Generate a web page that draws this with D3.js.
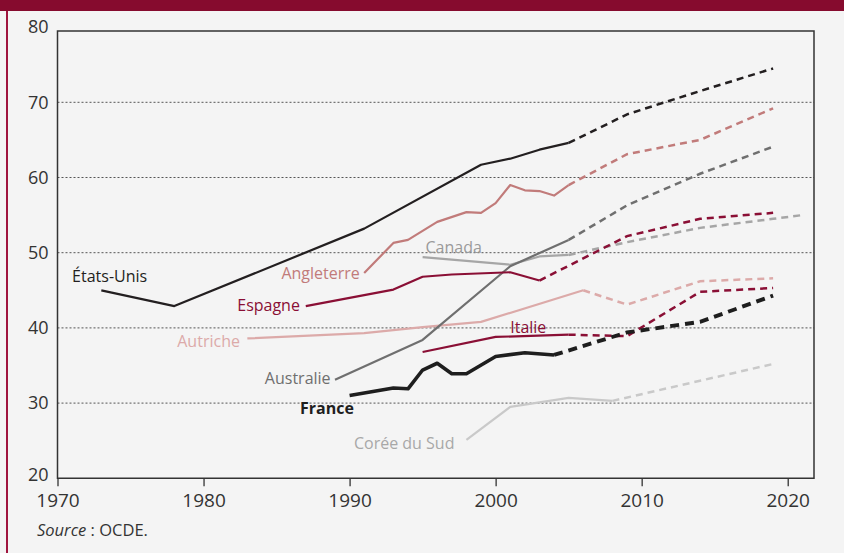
<!DOCTYPE html>
<head>
  <meta charset="utf-8">
  <script src="https://d3js.org/d3.v7.min.js"></script>
  <style>
    body { margin:0; background-color:#f4f4f4; }
    svg { display:block; font-family:"Open Sans", sans-serif; }
  </style>
</head>
<body>
<div class="chart-container"></div>
<script>
// observed values [year, %] and projections (dashed)
var etatsUnis      = [[1973,45.0],[1978,42.9],[1991,53.2],[1999,61.7],[2001,62.5],[2003,63.7],[2005,64.6]];
var etatsUnisProj  = [[2005,64.6],[2009,68.4],[2014,71.5],[2019,74.5]];
var angleterre     = [[1991,47.3],[1993,51.3],[1994,51.7],[1996,54.1],[1998,55.4],[1999,55.3],[2000,56.6],[2001,59.0],[2002,58.3],[2003,58.2],[2004,57.6],[2005,59.0]];
var angleterreProj = [[2005,59.0],[2009,63.1],[2014,65.0],[2019,69.2]];
var espagne        = [[1987,42.9],[1993,45.1],[1995,46.8],[1997,47.1],[2001,47.4],[2003,46.3]];
var espagneProj    = [[2003,46.3],[2009,52.2],[2014,54.5],[2019,55.3]];
var canada         = [[1995,49.4],[2001,48.4],[2003,49.5],[2005,49.7]];
var canadaProj     = [[2005,49.7],[2009,51.4],[2014,53.3],[2019,54.5],[2021,55.0]];
var australie      = [[1989,33.1],[1995,38.4],[2001,48.2],[2005,51.7]];
var australieProj  = [[2005,51.7],[2009,56.3],[2014,60.5],[2019,64.1]];
var autriche       = [[1983,38.6],[1991,39.3],[1995,40.1],[1999,40.8],[2006,45.0]];
var autricheProj   = [[2006,45.0],[2009,43.1],[2014,46.2],[2019,46.6]];
var italie         = [[1995,36.8],[2000,38.8],[2005,39.1]];
var italieProj     = [[2005,39.1],[2009,38.9],[2014,44.8],[2019,45.3]];
var france         = [[1990,31.0],[1993,32.0],[1994,31.9],[1995,34.4],[1996,35.3],[1997,33.9],[1998,33.9],[2000,36.2],[2002,36.7],[2004,36.4]];
var franceProj     = [[2004,36.4],[2009,39.4],[2014,40.8],[2019,44.3]];
var coree          = [[1998,25.1],[2001,29.5],[2005,30.7],[2008,30.3]];
var coreeProj      = [[2008,30.3],[2019,35.2]];

var xTicks = [1970, 1980, 1990, 2000, 2010, 2020];
var yTicks = [20, 30, 40, 50, 60, 70, 80];

var series = [
  {name:"Autriche",     obs:autriche,   proj:autricheProj,   color:"#dcaaa9", w:2.2, lx:1978.2, ly:37.5, anchor:"start"},
  {name:"Corée du Sud", obs:coree,      proj:coreeProj,      color:"#c9c9c9", w:2.2, lx:1990.3, ly:23.9, anchor:"start", tc:"#a8a8a8"},
  {name:"Canada",       obs:canada,     proj:canadaProj,     color:"#a6a6a6", w:2.2, lx:1995.2, ly:50.0, anchor:"start", tc:"#9a9a9a"},
  {name:"Australie",    obs:australie,  proj:australieProj,  color:"#6f6f6f", w:2.2, lx:1988.7, ly:32.6, anchor:"end"},
  {name:"Angleterre",   obs:angleterre, proj:angleterreProj, color:"#c17b7a", w:2.2, lx:1990.7, ly:46.5, anchor:"end"},
  {name:"Espagne",      obs:espagne,    proj:espagneProj,    color:"#8a0f35", w:2.2, lx:1986.6, ly:42.3, anchor:"end", weight:500},
  {name:"Italie",       obs:italie,     proj:italieProj,     color:"#8a0f35", w:2.2, lx:2001.0, ly:39.3, anchor:"start"},
  {name:"États-Unis",   obs:etatsUnis,  proj:etatsUnisProj,  color:"#231f20", w:2.2, lx:1971.0, ly:46.1, anchor:"start"},
  {name:"France",       obs:france,     proj:franceProj,     color:"#1e1e1e", w:3.6, lx:1986.6, ly:28.6, anchor:"start", weight:700, dash:"9,6"}
];

var svg = d3.select(".chart-container").append("svg")
  .attr("width", 844)
  .attr("height", 553);

// page decoration
svg.append("rect").attr("x", 0).attr("y", 0).attr("width", 844).attr("height", 553).attr("fill", "#f4f4f4");
svg.append("rect").attr("x", 0).attr("y", 0).attr("width", 844).attr("height", 11).attr("fill", "#860b2e");
svg.append("rect").attr("x", 6).attr("y", 11).attr("width", 2).attr("height", 542).attr("fill", "#a0153e");

var xScale = d3.scaleLinear().domain([1970, 2021.8]).range([57.5, 814]);
var yScale = d3.scaleLinear().domain([20, 80]).range([478.3, 27.1]);

// dotted gridlines
svg.append("g").selectAll("line")
  .data(yTicks.filter(function(d){ return d > 20 && d < 80; }))
  .enter().append("line")
  .attr("x1", xScale(1970)).attr("x2", xScale(2021.8))
  .attr("y1", function(d){ return yScale(d); })
  .attr("y2", function(d){ return yScale(d); })
  .attr("stroke", "#555")
  .attr("stroke-width", 1)
  .attr("stroke-dasharray", "2,2");

var line = d3.line()
  .x(function(d){ return xScale(d[0]); })
  .y(function(d){ return yScale(d[1]); });

var g = svg.append("g");
series.forEach(function(s) {
  g.append("path")
    .attr("d", line(s.proj))
    .attr("fill", "none")
    .attr("stroke", s.color)
    .attr("stroke-width", s.w + 0.3)
    .attr("stroke-dasharray", s.dash || "7,5");
  g.append("path")
    .attr("d", line(s.obs))
    .attr("fill", "none")
    .attr("stroke", s.color)
    .attr("stroke-width", s.w)
    .attr("stroke-linejoin", "round");
  g.append("text")
    .attr("x", xScale(s.lx))
    .attr("y", yScale(s.ly))
    .attr("text-anchor", s.anchor)
    .attr("font-size", "16px")
    .attr("font-weight", s.weight || 400)
    .attr("fill", s.tc || s.color)
    .text(s.name);
});

// frame
svg.append("path")
  .attr("d", "M" + xScale(1970) + ",31V" + yScale(20) + "H" + xScale(2021.8) + "V31Z")
  .attr("fill", "none")
  .attr("stroke", "#333")
  .attr("stroke-width", 1.5);

var xAxis = d3.axisBottom(xScale).tickValues(xTicks).tickSize(8).tickPadding(7).tickFormat(d3.format("d"));
var gx = svg.append("g").attr("transform", "translate(0," + yScale(20) + ")").call(xAxis);
gx.select(".domain").remove();
gx.selectAll("line").attr("stroke", "#333").attr("stroke-width", 1.3);
gx.selectAll("text").attr("font-size", "19px").attr("fill", "#333").attr("font-family", "Open Sans, sans-serif");

var yAxis = d3.axisLeft(yScale).tickValues(yTicks).tickSize(0).tickPadding(9);
var gy = svg.append("g").attr("transform", "translate(" + xScale(1970) + ",0)").call(yAxis);
gy.select(".domain").remove();
gy.selectAll("text").attr("font-size", "18px").attr("fill", "#333").attr("font-family", "Open Sans, sans-serif");
// keep "20" clear of the "1970" label below it
gy.selectAll(".tick").filter(function(d){ return d === 20; }).select("text").attr("dy", "0.1em");

var src = svg.append("text").attr("x", 37).attr("y", 536).attr("font-size", "16.5px").attr("fill", "#333");
src.append("tspan").attr("font-style", "italic").text("Source");
src.append("tspan").text(" : OCDE.");
</script>
</body>
